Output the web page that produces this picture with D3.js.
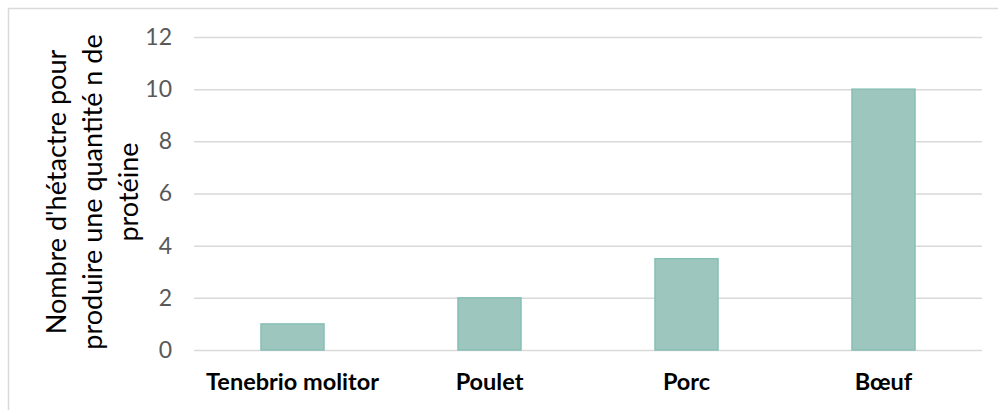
<!DOCTYPE html>
<html>
<head>
<meta charset="utf-8">
<script src="https://cdn.jsdelivr.net/npm/d3@7"></script>
<style>
  body { margin: 0; background: #fff; }
  svg { display: block; font-family: Lato, "Open Sans", sans-serif; }
</style>
</head>
<body>
<div id="chart"></div>
<script>
// data
var categories = ["Tenebrio molitor", "Poulet", "Porc", "Bœuf"];
var values = [1, 2, 3.5, 10];
var yTicks = [0, 2, 4, 6, 8, 10, 12];
var titleLines = ["Nombre d'hétactre pour", "produire une quantité n de", "protéine"];

var svgWidth = 998;
var svgHeight = 410;
var margin = { top: 37, right: 16, bottom: 60, left: 194 };
var chartWidth = svgWidth - margin.left - margin.right;
var chartHeight = svgHeight - margin.top - margin.bottom;

var svg = d3.select("#chart").append("svg")
    .attr("width", svgWidth)
    .attr("height", svgHeight);

// chart area border (runs past the picture on the right and bottom)
svg.append("rect")
    .attr("x", 8.5).attr("y", 8.5)
    .attr("width", 1100).attr("height", 600)
    .attr("fill", "none")
    .attr("stroke", "#d9d9d9")
    .attr("stroke-width", 1.5);

var g = svg.append("g")
    .attr("transform", `translate(${margin.left}, ${margin.top})`);

var x = d3.scaleBand()
    .domain(categories)
    .range([0, chartWidth])
    .paddingInner(0.68)
    .paddingOuter(0.34);

var y = d3.scaleLinear()
    .domain([0, 12])
    .range([chartHeight, 0]);

// gridlines
g.append("g")
    .call(d3.axisLeft(y).tickValues(yTicks).tickSize(-chartWidth).tickFormat(""))
    .call(s => s.select(".domain").remove())
    .call(s => s.selectAll("line").attr("stroke", "#d9d9d9").attr("stroke-width", 1.5));

// y tick labels
g.append("g")
    .call(d3.axisLeft(y).tickValues(yTicks).tickSize(0).tickPadding(22))
    .call(s => s.select(".domain").remove())
    .call(s => s.selectAll("text")
        .attr("fill", "#595959")
        .attr("font-size", "23px")
        .attr("font-family", "Lato, sans-serif"));

// bars
g.selectAll(".bar")
    .data(values)
    .enter().append("rect")
    .attr("class", "bar")
    .attr("x", (d, i) => x(categories[i]))
    .attr("y", d => y(d))
    .attr("width", x.bandwidth())
    .attr("height", d => y(0) - y(d))
    .attr("fill", "#9dc6bf")
    .attr("stroke", "#88bfb5")
    .attr("stroke-width", 1.5);

// category labels
g.append("g")
    .attr("transform", `translate(0, ${chartHeight})`)
    .call(d3.axisBottom(x).tickSize(0).tickPadding(23))
    .call(s => s.select(".domain").remove())
    .call(s => s.selectAll("text")
        .attr("fill", "#000")
        .attr("font-weight", "bold")
        .attr("font-size", "23.5px")
        .attr("font-family", "Lato, sans-serif"));

// y axis title, three lines
var title = svg.append("text")
    .attr("transform", "translate(66, 192) rotate(-90)")
    .attr("text-anchor", "middle")
    .attr("fill", "#000")
    .attr("font-size", "27px");

title.selectAll("tspan")
    .data(titleLines)
    .enter().append("tspan")
    .attr("x", 0)
    .attr("dy", (d, i) => i === 0 ? 0 : 36)
    .text(d => d);
</script>
</body>
</html>
